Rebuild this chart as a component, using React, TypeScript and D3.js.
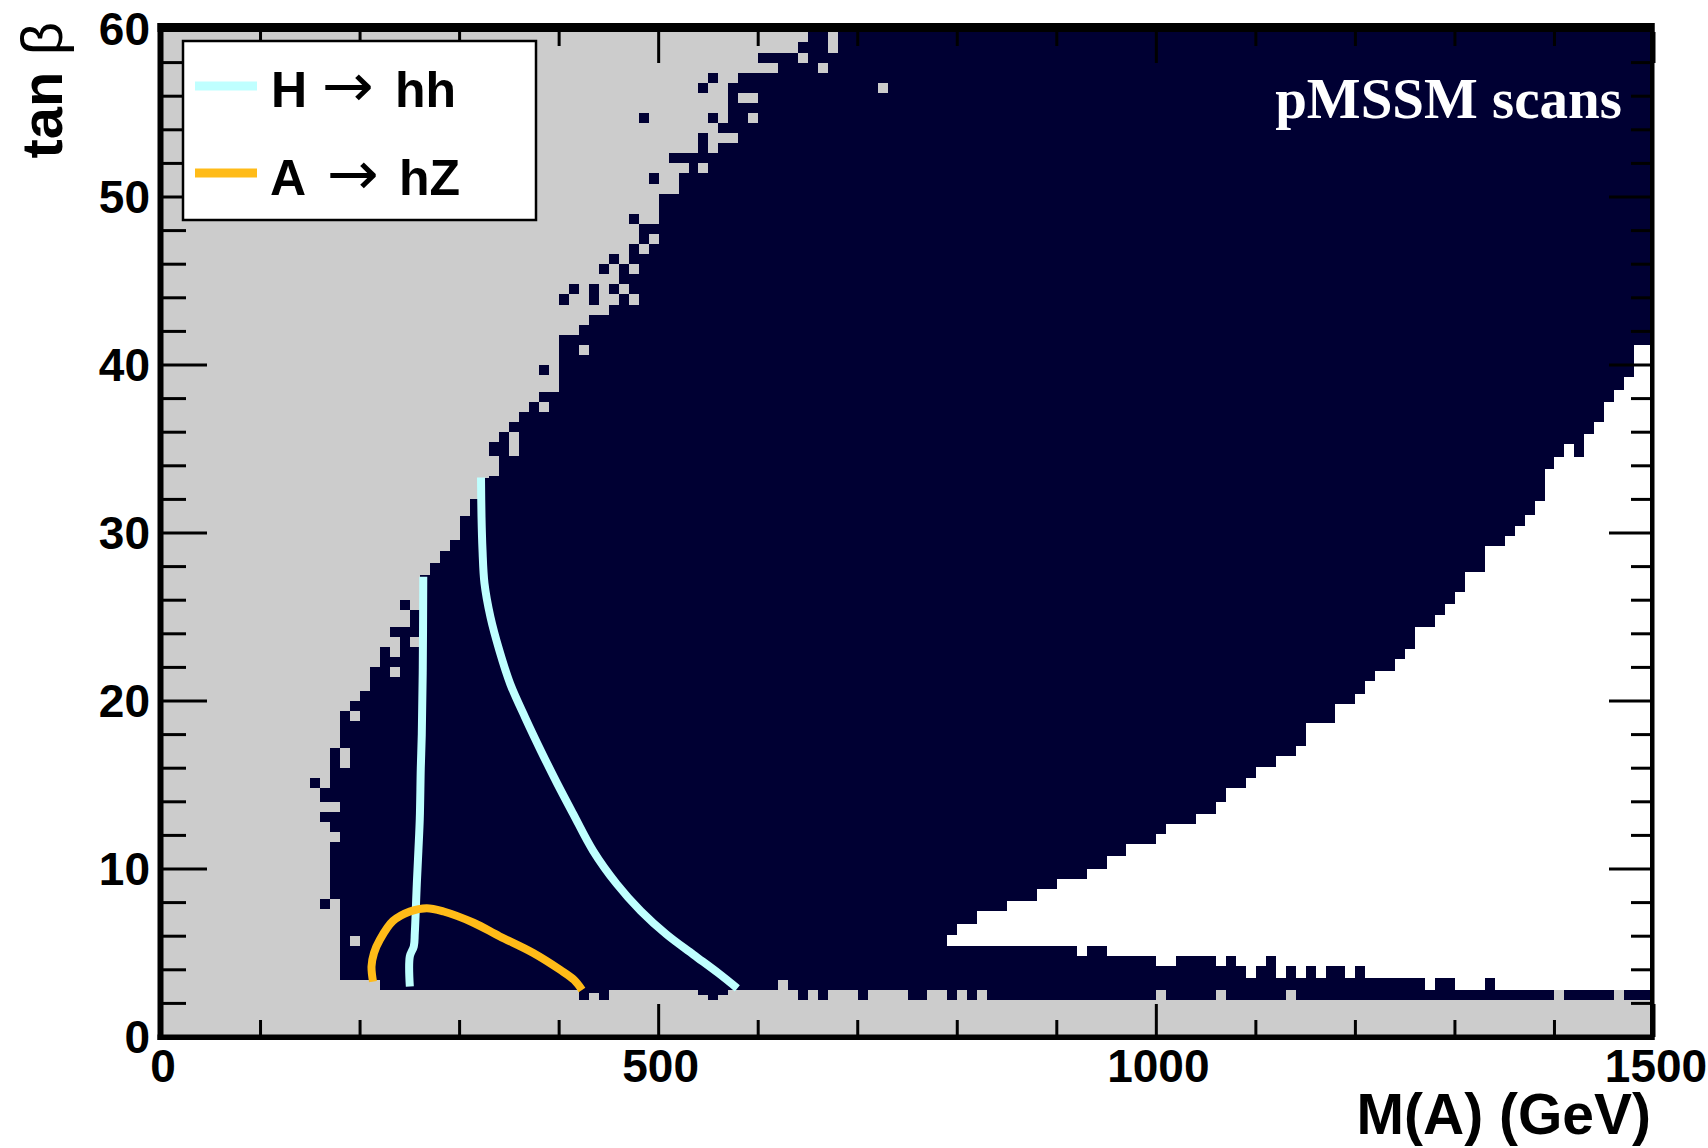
import React from 'react';
import * as d3 from 'd3';

// ---------- data (GeV low, GeV high, tanβ low, tanβ high) ----------
const navyBlocks: [number, number, number, number][] = [
  [170, 180, 8.2, 17.2], [180, 190, 3.4, 19.4], [190, 200, 3.4, 20.0], [200, 210, 3.4, 20.6],
  [210, 220, 3.4, 22.0], [220, 230, 2.8, 23.2], [230, 240, 2.8, 24.4], [240, 250, 2.8, 24.4],
  [250, 260, 2.8, 25.4], [260, 270, 2.8, 27.5], [270, 280, 2.8, 28.2], [280, 290, 2.8, 28.9],
  [290, 300, 2.8, 29.6], [300, 310, 2.8, 31.0], [310, 320, 2.8, 32.0], [320, 330, 2.8, 33.3],
  [330, 340, 2.8, 33.4], [340, 350, 2.8, 36.0], [350, 360, 2.8, 36.6], [360, 370, 2.8, 37.2],
  [370, 380, 2.8, 37.8], [380, 390, 2.8, 38.4], [390, 400, 2.8, 38.4], [400, 410, 2.8, 41.8],
  [410, 420, 2.8, 41.8], [420, 430, 2.2, 42.4], [430, 440, 2.6, 43.0], [440, 450, 2.2, 43.0],
  [450, 460, 2.8, 43.6], [460, 470, 2.8, 46.0], [470, 480, 2.8, 47.2], [480, 490, 2.8, 48.4],
  [490, 500, 2.8, 48.4], [500, 510, 2.8, 50.2], [510, 520, 2.8, 50.2], [520, 530, 2.8, 51.4],
  [530, 540, 2.8, 52.6], [540, 550, 2.5, 53.8], [550, 560, 2.2, 52.6], [560, 570, 2.5, 54.4],
  [570, 580, 2.8, 56.8], [580, 590, 2.8, 57.4], [590, 600, 2.8, 57.4], [600, 610, 2.8, 58.6],
  [610, 620, 2.8, 58.6], [620, 630, 3.4, 58.6], [630, 640, 2.8, 58.6], [640, 650, 2.2, 59.2],
  [650, 660, 2.8, 60], [660, 670, 2.2, 60], [670, 700, 2.8, 60], [700, 710, 2.2, 60],
  [710, 750, 2.8, 60], [750, 770, 2.2, 60], [770, 790, 2.8, 60], [790, 800, 2.2, 60],
  [800, 810, 2.8, 60], [810, 820, 2.2, 60], [820, 830, 2.8, 60], [830, 1000, 2.2, 60],
  [1000, 1010, 2.8, 60], [1010, 1060, 2.2, 60], [1060, 1070, 2.8, 60], [1070, 1130, 2.2, 60],
  [1130, 1140, 2.8, 60], [1140, 1400, 2.2, 60], [1400, 1410, 2.8, 60], [1410, 1460, 2.2, 60],
  [1460, 1470, 2.8, 60], [1470, 1500, 2.2, 60],
];

const whiteBlocks: [number, number, number, number][] = [
  [790, 800, 5.4, 6.1], [800, 820, 5.4, 6.7], [820, 850, 5.4, 7.5], [850, 880, 5.4, 8.1],
  [880, 900, 5.4, 8.8], [900, 920, 5.4, 9.4], [920, 930, 4.8, 9.4], [930, 950, 5.4, 10.0],
  [950, 970, 4.8, 10.8], [970, 1000, 4.8, 11.5], [1000, 1010, 4.2, 12.1], [1010, 1020, 4.2, 12.7],
  [1020, 1040, 4.8, 12.7], [1040, 1060, 4.8, 13.3], [1060, 1070, 4.2, 14.0], [1070, 1080, 4.8, 14.8],
  [1080, 1090, 4.2, 14.8], [1090, 1100, 3.5, 15.4], [1100, 1110, 4.2, 16.1], [1110, 1120, 4.8, 16.1],
  [1120, 1130, 3.5, 16.7], [1130, 1140, 4.2, 16.7], [1140, 1150, 3.5, 17.3], [1150, 1160, 4.2, 18.7],
  [1160, 1170, 3.5, 18.7], [1170, 1180, 4.2, 18.7], [1180, 1190, 4.2, 19.8], [1190, 1200, 3.5, 19.8],
  [1200, 1210, 4.2, 20.4], [1210, 1220, 3.5, 21.2], [1220, 1240, 3.5, 21.8], [1240, 1250, 3.5, 22.5],
  [1250, 1260, 3.5, 23.1], [1260, 1270, 3.5, 24.4], [1270, 1280, 2.8, 24.4], [1280, 1290, 3.5, 25.1],
  [1290, 1300, 3.5, 25.8], [1300, 1310, 2.8, 26.5], [1310, 1330, 2.8, 27.7], [1330, 1340, 3.5, 29.2],
  [1340, 1350, 2.8, 29.2], [1350, 1360, 2.8, 29.8], [1360, 1370, 2.8, 30.4], [1370, 1380, 2.8, 31.1],
  [1380, 1390, 2.8, 31.9], [1390, 1400, 2.8, 33.8], [1400, 1410, 2.8, 34.5], [1410, 1420, 2.8, 35.3],
  [1420, 1430, 2.8, 34.5], [1430, 1440, 2.8, 35.9], [1440, 1450, 2.8, 36.6], [1450, 1460, 2.8, 37.8],
  [1460, 1470, 2.8, 38.5], [1470, 1480, 2.8, 39.3], [1480, 1500, 2.8, 41.2],
];

const greyHoles: [number, number, number, number][] = [
  [170, 180, 11.6, 12.2], [170, 180, 13.4, 14.0], [180, 190, 16.0, 17.2], [190, 200, 18.8, 19.4],
  [190, 200, 5.4, 6.0], [230, 240, 21.4, 22.0], [230, 240, 22.6, 23.8], [250, 260, 23.2, 23.8],
  [350, 360, 34.6, 36.0], [380, 390, 37.2, 37.8], [420, 430, 40.6, 41.2], [460, 470, 44.2, 44.8],
  [470, 480, 45.4, 46.0], [470, 480, 43.6, 44.2], [480, 490, 46.6, 47.2], [490, 500, 47.2, 47.8],
  [540, 550, 51.4, 52.0], [560, 580, 53.2, 53.8], [580, 600, 55.6, 56.2], [590, 600, 54.4, 55.0],
  [600, 620, 57.4, 58.0], [640, 650, 58.0, 58.6], [660, 670, 57.4, 58.0], [670, 680, 58.6, 60],
  [720, 730, 56.2, 56.8],
];

const navySpecks: [number, number, number, number][] = [
  [150, 160, 14.8, 15.4], [160, 170, 7.6, 8.2], [160, 170, 12.8, 13.4], [160, 170, 14.0, 14.8],
  [240, 250, 25.4, 26.0], [330, 340, 34.6, 35.4], [380, 390, 39.4, 40.0], [400, 410, 43.6, 44.2],
  [410, 420, 44.2, 44.8], [430, 440, 43.6, 44.8], [440, 450, 45.4, 46.0], [450, 460, 44.2, 44.8],
  [450, 460, 46.0, 46.6], [470, 480, 48.4, 49.0], [480, 490, 54.4, 55.0], [490, 500, 50.8, 51.4],
  [510, 530, 52.0, 52.6], [540, 550, 56.2, 56.8], [550, 560, 54.4, 55.0], [550, 560, 56.8, 57.4],
];

// curves (M(A) GeV, tanβ)
const hhLeft: [number, number][] = [
  [250, 3.0], [250, 4.8], [254, 5.4], [255, 6.2], [257, 9.1], [258.6, 11.1], [260, 13.0],
  [261, 16.0], [262, 18.0], [263, 22.0], [263.5, 27.4],
];
const hhRight: [number, number][] = [
  [321.5, 33.3], [322, 31.0], [323, 29.0], [325, 27.0], [331, 25.0], [340, 23.0], [351, 21.0],
  [366, 19.0], [382, 17.0], [398, 15.1], [414, 13.3], [434, 11.1], [458, 9.1], [482, 7.5],
  [508, 6.1], [535, 4.9], [560, 3.8], [579, 2.9],
];
const ahZ: [number, number][] = [
  [213, 3.3], [211.5, 4.2], [214, 5.0], [220, 5.8], [233, 6.9], [250, 7.47], [267, 7.67],
  [284, 7.47], [314, 6.8], [340, 6.0], [374, 5.0], [401, 4.0], [415, 3.4], [423, 2.8],
];

const xMajorTicks = [0, 500, 1000, 1500];
const yMajorTicks = [0, 10, 20, 30, 40, 50, 60];
const xMinorTicks = [100, 200, 300, 400, 600, 700, 800, 900, 1100, 1200, 1300, 1400];
const yMinorTicks = [2, 4, 6, 8, 12, 14, 16, 18, 22, 24, 26, 28, 32, 34, 36, 38, 42, 44, 46, 48, 52, 54, 56, 58];

const GREY = '#cccccc';
const NAVY = '#000033';
const CYAN = '#bfffff';
const ORANGE = '#ffbb18';
const SANS = '"Liberation Sans", Arial, Helvetica, sans-serif';

export default function App() {
  const X0 = 161, X1 = 1654, Y0 = 1037, Y1 = 29;
  const x = d3.scaleLinear().domain([0, 1500]).range([X0, X1]);
  const y = d3.scaleLinear().domain([0, 60]).range([Y0, Y1]);
  const line = d3
    .line<[number, number]>()
    .x((d) => x(d[0]))
    .y((d) => y(d[1]))
    .curve(d3.curveCatmullRom.alpha(0.5));

  const block = (b: [number, number, number, number], fill: string, key: string) => (
    <rect
      key={key}
      x={x(b[0])}
      y={y(Math.min(60, b[3]))}
      width={x(b[1]) - x(b[0])}
      height={y(b[2]) - y(Math.min(60, b[3]))}
      fill={fill}
      shapeRendering="crispEdges"
    />
  );

  return (
    <svg
      width={1708}
      height={1148}
      style={{ position: 'absolute', left: 0, top: 0, background: '#fff' }}
      fontFamily={SANS}
    >
      <defs>
        <clipPath id="plot">
          <rect x={X0} y={Y1} width={X1 - X0} height={Y0 - Y1} />
        </clipPath>
      </defs>
      <rect x={X0} y={Y1} width={X1 - X0} height={Y0 - Y1} fill={GREY} />
      <g clipPath="url(#plot)">
        {navyBlocks.map((b, i) => block(b, NAVY, 'n' + i))}
        {whiteBlocks.map((b, i) => block(b, '#ffffff', 'w' + i))}
        {greyHoles.map((b, i) => block(b, GREY, 'g' + i))}
        {navySpecks.map((b, i) => block(b, NAVY, 's' + i))}
        <path d={line(hhLeft) || ''} fill="none" stroke={CYAN} strokeWidth={8} strokeLinejoin="round" />
        <path d={line(hhRight) || ''} fill="none" stroke={CYAN} strokeWidth={8} strokeLinejoin="round" />
        <path d={line(ahZ) || ''} fill="none" stroke={ORANGE} strokeWidth={8} strokeLinejoin="round" />
      </g>

      {/* ticks */}
      <g stroke="#000" strokeWidth={3}>
        {xMajorTicks.map((v) => (
          <g key={'xM' + v}>
            <line x1={x(v)} x2={x(v)} y1={Y0} y2={Y0 - 33} />
            <line x1={x(v)} x2={x(v)} y1={32} y2={32 + 31} />
          </g>
        ))}
        {xMinorTicks.map((v) => (
          <g key={'xm' + v}>
            <line x1={x(v)} x2={x(v)} y1={Y0} y2={Y0 - 17} />
            <line x1={x(v)} x2={x(v)} y1={32} y2={32 + 14} />
          </g>
        ))}
        {yMajorTicks.map((v) => (
          <g key={'yM' + v}>
            <line x1={X0} x2={X0 + 46} y1={y(v)} y2={y(v)} />
            <line x1={X1} x2={X1 - 45} y1={y(v)} y2={y(v)} />
          </g>
        ))}
        {yMinorTicks.map((v) => (
          <g key={'ym' + v}>
            <line x1={X0} x2={X0 + 25} y1={y(v)} y2={y(v)} />
            <line x1={X1} x2={X1 - 23} y1={y(v)} y2={y(v)} />
          </g>
        ))}
      </g>

      {/* frame */}
      <rect x={157.5} y={23} width={6} height={1017} fill="#000" />
      <rect x={157.5} y={1034.5} width={1497} height={5.5} fill="#000" />
      <rect x={1650} y={23} width={4.5} height={1017} fill="#000" />
      <rect x={157.5} y={23} width={1497} height={9} fill="#000" />

      {/* tick labels */}
      <g fontSize={46} fontWeight="bold" fill="#000">
        {xMajorTicks.map((v) => (
          <text key={'xl' + v} x={x(v) + 2} y={1082} textAnchor="middle">
            {v}
          </text>
        ))}
        {yMajorTicks.map((v) => (
          <text key={'yl' + v} x={150} y={y(v) + 16} textAnchor="end">
            {v}
          </text>
        ))}
      </g>

      {/* axis titles */}
      <text x={1651} y={1134} textAnchor="end" fontSize={57} fontWeight="bold">
        M(A) (GeV)
      </text>
      <text transform="translate(62,22) rotate(-90)" textAnchor="end" fontSize={58}>
        <tspan fontWeight="bold">tan</tspan>
        <tspan fontWeight="normal"> β</tspan>
      </text>

      {/* legend */}
      <rect x={183} y={41} width={353} height={179} fill="#fff" stroke="#000" strokeWidth={2.5} />
      <line x1={195} x2={257} y1={86} y2={86} stroke={CYAN} strokeWidth={9} />
      <line x1={195} x2={257} y1={173} y2={173} stroke={ORANGE} strokeWidth={9} />
      <g fontSize={50} fill="#000">
        <text x={271} y={107} fontWeight="bold">H</text>
        <text
          x={322}
          y={106}
          fontWeight="normal"
          fontFamily='"DejaVu Sans", sans-serif'
          fontSize={60}
          textLength={52}
          lengthAdjust="spacingAndGlyphs"
        >
          →
        </text>
        <text x={395} y={107} fontWeight="bold">hh</text>
        <text x={270} y={195} fontWeight="bold">A</text>
        <text
          x={327}
          y={194}
          fontWeight="normal"
          fontFamily='"DejaVu Sans", sans-serif'
          fontSize={60}
          textLength={52}
          lengthAdjust="spacingAndGlyphs"
        >
          →
        </text>
        <text x={399} y={195} fontWeight="bold">hZ</text>
      </g>

      <text
        x={1622}
        y={118}
        textAnchor="end"
        fontSize={57}
        fontWeight="bold"
        fill="#fff"
        fontFamily='"Liberation Serif", "Times New Roman", serif'
      >
        pMSSM scans
      </text>
    </svg>
  );
}
